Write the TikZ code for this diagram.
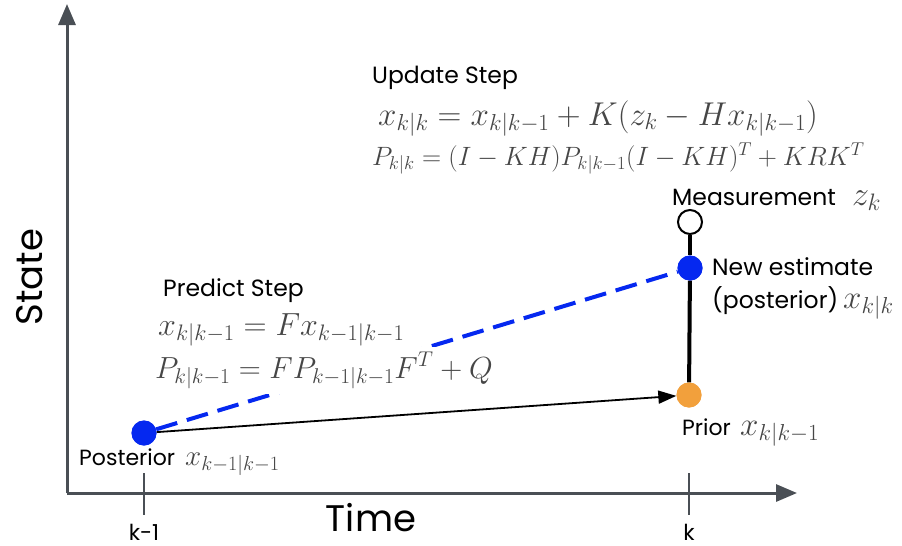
\RequirePackage{fix-cm}
\documentclass[tikz,border=0pt]{standalone}
\usepackage{fontspec}
\setmainfont{Poppins}
\usetikzlibrary{arrows.meta}
\definecolor{axisgray}{RGB}{74,79,85}
\definecolor{dotblue}{RGB}{5,40,240}
\definecolor{dotorange}{RGB}{242,160,60}
\definecolor{mathgray}{RGB}{70,70,70}
\tikzset{
  dot/.style={circle, minimum size=25pt, inner sep=0pt},
  axisline/.style={draw=axisgray, line width=3pt, -{Triangle[length=21pt,width=17pt]}},
  tickmark/.style={draw=axisgray, line width=2.5pt},
  lbl/.style={anchor=base west, inner sep=0pt, font=\fontsize{23.5}{26}\selectfont},
  smalllbl/.style={anchor=base west, inner sep=0pt, font=\fontsize{22}{24}\selectfont},
  biglbl/.style={inner sep=0pt, font=\fontsize{37}{40}\selectfont},
  mathlbl/.style={anchor=base west, inner sep=0pt, text=mathgray, font=\fontsize{34}{36}\selectfont},
  formula/.style={anchor=base west, inner sep=3pt, fill=white, text=mathgray},
}
\begin{document}
\begin{tikzpicture}[x=1pt,y=-1pt]
\useasboundingbox (0,0) rectangle (902,546);
% axes
\coordinate (O) at (67,493);
\coordinate (ytop) at (67,4);
\coordinate (xend) at (797,493);
\draw[axisline] (O) -- (ytop);
\draw[axisline] (O) -- (xend);
\coordinate (t1a) at (144,473); \coordinate (t1b) at (144,515);
\coordinate (t2a) at (689,473); \coordinate (t2b) at (689,515);
\draw[tickmark] (t1a) -- (t1b);
\draw[tickmark] (t2a) -- (t2b);
\node[smalllbl, anchor=base] (km1) at (144,540) {k-1};
\node[smalllbl, anchor=base] (kk) at (689,540) {k};
\node[biglbl, anchor=base] (time) at (371,531) {Time};
\node[biglbl, rotate=90, anchor=base] (state) at (42,277) {State};
% points
\node[dot, fill=dotblue] (post) at (144,433) {};
\node[dot, fill=dotorange] (prior) at (689,395) {};
\node[dot, fill=dotblue] (new) at (690,268) {};
\node[dot, fill=white, draw=black, line width=2pt, minimum size=24pt] (meas) at (690,222) {};
% connectors
\draw[line width=4pt] (meas) -- (new);
\draw[line width=4pt] (new) -- (prior);
\draw[dotblue, line width=4pt, dash pattern=on 22pt off 10pt] (post) -- (new);
\draw[line width=1.8pt, -{Triangle[length=18pt,width=13pt]}] (post) -- (prior);
% redraw dots on top
\node[dot, fill=dotblue] at (post) {};
\node[dot, fill=dotblue] at (new) {};
\node[dot, fill=dotorange] at (prior) {};
% labels
\node[lbl] (measl) at (672,205) {Measurement};
\node[mathlbl] (measm) at (852,205) {$z_k$};
\node[lbl] (newl) at (712,275) {New estimate};
\node[lbl] (postl2) at (712,308) {(posterior)};
\node[mathlbl, font=\fontsize{33}{35}\selectfont] (postm2) at (843,308) {$x_{k|k}$};
\node[smalllbl] (priorl) at (682,435) {Prior};
\node[mathlbl, font=\fontsize{33}{35}\selectfont] (priorm) at (740,435) {$x_{k|k-1}$};
\node[smalllbl] (postl) at (79,465) {Posterior};
\node[mathlbl, font=\fontsize{29}{31}\selectfont] (postm) at (185,465) {$x_{k-1|k-1}$};
% predict step
\node[lbl] (predt) at (163,296) {Predict Step};
\node[formula, font=\fontsize{32}{34}\selectfont] (pred1) at (155,335) {$x_{k|k-1} = Fx_{k-1|k-1}$};
\node[formula, font=\fontsize{30.5}{33}\selectfont, inner ysep=5pt] (pred2) at (152,378) {$P_{k|k-1} = FP_{k-1|k-1}F^T + Q$};
% update step
\node[lbl] (updt) at (372,83) {Update Step};
\node[formula, font=\fontsize{33}{35}\selectfont] (upd1) at (375,125) {$x_{k|k} = x_{k|k-1} + K(z_k - Hx_{k|k-1})$};
\node[formula, font=\fontsize{26.5}{29}\selectfont] (upd2) at (369,165) {$P_{k|k} = (I - KH)P_{k|k-1}(I - KH)^T + KRK^T$};
\end{tikzpicture}
\end{document}
